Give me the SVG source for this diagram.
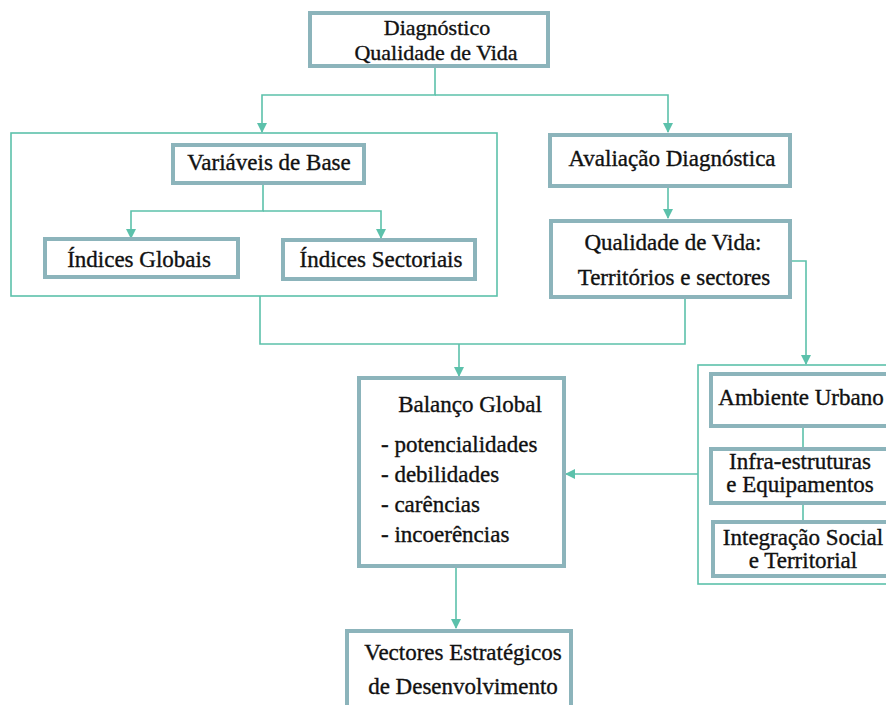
<svg xmlns="http://www.w3.org/2000/svg" width="886" height="705" viewBox="0 0 886 705">
<defs>
<marker id="ah" markerWidth="10" markerHeight="10" refX="9" refY="5" orient="auto" markerUnits="userSpaceOnUse">
<path d="M0,0 L10,5 L0,10 Z" fill="#5cc1ab"/>
</marker>
<style>
.box{fill:#fff;stroke:#8cb4bb;stroke-width:4}
.cont{fill:none;stroke:#5cc1ab;stroke-width:1.6}
.con{fill:none;stroke:#5cc1ab;stroke-width:1.6}
.c{text-anchor:middle}
</style>
</defs>
<rect width="886" height="705" fill="#fff"/>
<g id="containers">
<rect class="cont" x="11" y="133" width="486" height="163"/>
<rect class="cont" x="698" y="365" width="192" height="219"/>
</g>
<g id="connectors">
<path class="con" d="M435,66 V95 H262 V132" marker-end="url(#ah)"/>
<path class="con" d="M435,95 H668 V132" marker-end="url(#ah)"/>
<path class="con" d="M263,183 V211 H131 V238" marker-end="url(#ah)"/>
<path class="con" d="M263,211 H381 V238" marker-end="url(#ah)"/>
<path class="con" d="M668,186 V218" marker-end="url(#ah)"/>
<path class="con" d="M790,261 H806 V364" marker-end="url(#ah)"/>
<path class="con" d="M260,296 V344 H685 V297"/>
<path class="con" d="M459,344 V376" marker-end="url(#ah)"/>
<path class="con" d="M698,474 H566" marker-end="url(#ah)"/>
<path class="con" d="M456,566 V628" marker-end="url(#ah)"/>
<path class="con" d="M803,426 V449 M803,503 V522"/>
</g>
<g font-family="Liberation Serif, DejaVu Serif, serif" font-size="23" fill="#111" stroke="#111" stroke-width="0.35">
<g id="n-diag" font-size="22">
<rect class="box" x="310" y="13" width="238" height="53"/>
<text class="c" x="437" y="35">Diagnóstico</text>
<text class="c" x="436" y="60">Qualidade de Vida</text>
</g>
<g id="n-var">
<rect class="box" x="173" y="145" width="191" height="38"/>
<text class="c" x="269" y="170">Variáveis de Base</text>
</g>
<g id="n-ig">
<rect class="box" x="45" y="239" width="193" height="38"/>
<text class="c" x="139" y="267">Índices Globais</text>
</g>
<g id="n-is">
<rect class="box" x="283" y="240" width="192" height="39"/>
<text class="c" x="381" y="267">Índices Sectoriais</text>
</g>
<g id="n-aval">
<rect class="box" x="550" y="135" width="240" height="51"/>
<text class="c" x="672" y="166">Avaliação Diagnóstica</text>
</g>
<g id="n-qdv">
<rect class="box" x="551" y="221" width="239" height="76"/>
<text class="c" x="673" y="250">Qualidade de Vida:</text>
<text class="c" x="674" y="285">Territórios e sectores</text>
</g>
<g id="n-bal">
<rect class="box" x="359" y="378" width="205" height="188"/>
<text class="c" x="470" y="412">Balanço Global</text>
<text x="381" y="452">- potencialidades</text>
<text x="381" y="482">- debilidades</text>
<text x="381" y="512">- carências</text>
<text x="381" y="542">- incoerências</text>
</g>
<g id="n-vec">
<rect class="box" x="347" y="631" width="224" height="80"/>
<text class="c" x="463" y="660">Vectores Estratégicos</text>
<text class="c" x="463" y="694">de Desenvolvimento</text>
</g>
<g id="n-amb">
<rect class="box" x="711" y="374" width="180" height="52"/>
<text class="c" x="801" y="405">Ambiente Urbano</text>
</g>
<g id="n-inf">
<rect class="box" x="711" y="449" width="180" height="54"/>
<text class="c" x="800" y="469">Infra-estruturas</text>
<text class="c" x="800" y="492">e Equipamentos</text>
</g>
<g id="n-int">
<rect class="box" x="713" y="522" width="178" height="54"/>
<text class="c" x="803" y="545">Integração Social</text>
<text class="c" x="803" y="568">e Territorial</text>
</g>
</g>
</svg>
